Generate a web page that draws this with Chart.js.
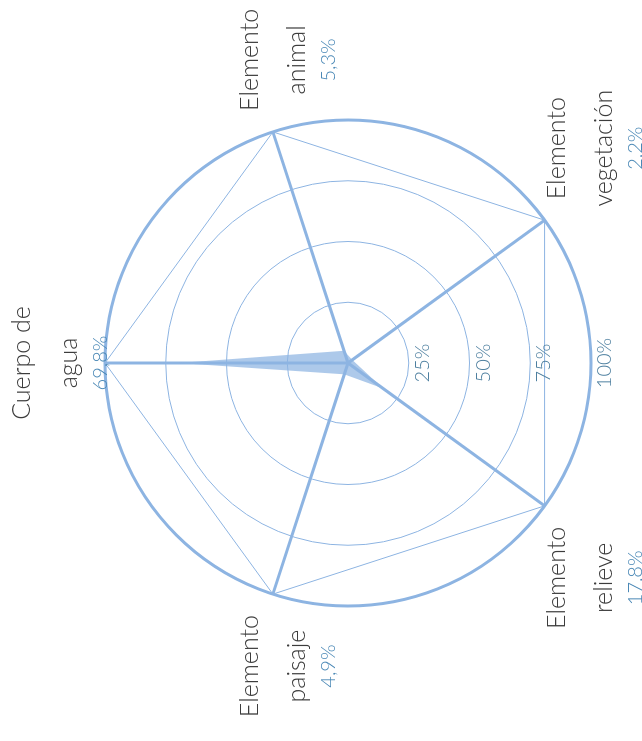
<!DOCTYPE html>
<html>
<head>
<meta charset="utf-8">
<script src="https://cdn.jsdelivr.net/npm/chart.js@4"></script>
<style>
  html, body { margin: 0; padding: 0; background: #fff; overflow: hidden; }
  /* chart is laid out sideways, then turned a quarter turn counter-clockwise */
  #wrap {
    position: absolute; left: 0; top: 0;
    width: 741px; height: 642px;
    transform-origin: 0 0;
    transform: translate(0, 741px) rotate(-90deg);
  }
</style>
</head>
<body>
<div id="wrap"><canvas id="radar" width="741" height="642"></canvas></div>
<script>
const categories = [
  ['Cuerpo de', 'agua'],
  ['Elemento', 'animal'],
  ['Elemento', 'vegetación'],
  ['Elemento', 'relieve'],
  ['Elemento', 'paisaje']
];
const shares = [69.8, 5.3, 2.2, 17.8, 4.9];
const outline = [100, 100, 100, 100, 100];
const tickValues = [25, 50, 75, 100];
const tickLabels = ['25%', '50%', '75%', '100%'];

const lineBlue = '#8db4e2';
const fillBlue = 'rgba(141, 180, 226, 0.72)';
const nameColor = '#3c3c3c';
const valueColor = '#4a88b6';
const tickColor = '#4d7f9f';
const fontFamily = 'Lato, "Open Sans", sans-serif';

const fmt = v => v.toFixed(1).replace('.', ',') + '%';

// category names, values and ring labels are drawn here
const labelPlugin = {
  id: 'radarLabels',
  afterDraw(chart) {
    const scale = chart.scales.r;
    const ctx = chart.ctx;
    ctx.save();
    ctx.textAlign = 'center';
    ctx.textBaseline = 'alphabetic';

    ctx.font = '300 20px ' + fontFamily;
    ctx.fillStyle = tickColor;
    tickValues.forEach((v, i) => {
      const d = scale.getDistanceFromCenterForValue(v);
      ctx.fillText(tickLabels[i], scale.xCenter, scale.yCenter + d + 20);
    });

    categories.forEach((lines, i) => {
      const p = scale.getPointPosition(i, scale.drawingArea);
      const a = scale.getIndexAngle(i);
      const s = Math.sin(a), c = Math.cos(a);
      const dx = Math.abs(s) > 0.1 ? 72 * Math.sign(s) : 0;
      const dy = c > 0.9 ? -75 : (c > 0 ? -15 : 20);
      const x = p.x + dx;
      let y = p.y + dy;
      ctx.font = '300 25px ' + fontFamily;
      ctx.fillStyle = nameColor;
      ctx.fillText(lines[0], x, y);
      y += 47;
      ctx.fillText(lines[1], x, y);
      y += 30;
      ctx.font = '300 20px ' + fontFamily;
      ctx.fillStyle = valueColor;
      ctx.fillText(fmt(shares[i]), x, y);
    });
    ctx.restore();
  }
};

new Chart(document.getElementById('radar'), {
  type: 'radar',
  data: {
    labels: categories,
    datasets: [
      {
        data: shares,
        fill: true,
        backgroundColor: fillBlue,
        borderWidth: 0,
        pointRadius: 0
      },
      {
        data: outline,
        fill: false,
        borderColor: lineBlue,
        borderWidth: 1,
        pointRadius: 0
      }
    ]
  },
  options: {
    responsive: false,
    animation: false,
    layout: { padding: { top: 105, bottom: 51, left: 135, right: 120 } },
    plugins: { legend: { display: false }, tooltip: { enabled: false } },
    scales: {
      r: {
        min: 0,
        max: 100,
        ticks: { stepSize: 25, display: false },
        pointLabels: { display: false },
        angleLines: { color: lineBlue, lineWidth: 3 },
        grid: {
          circular: true,
          color: lineBlue,
          lineWidth: ctx => (ctx.tick && ctx.tick.value === 100 ? 3 : 1)
        }
      }
    }
  },
  plugins: [labelPlugin]
});
</script>
</body>
</html>
